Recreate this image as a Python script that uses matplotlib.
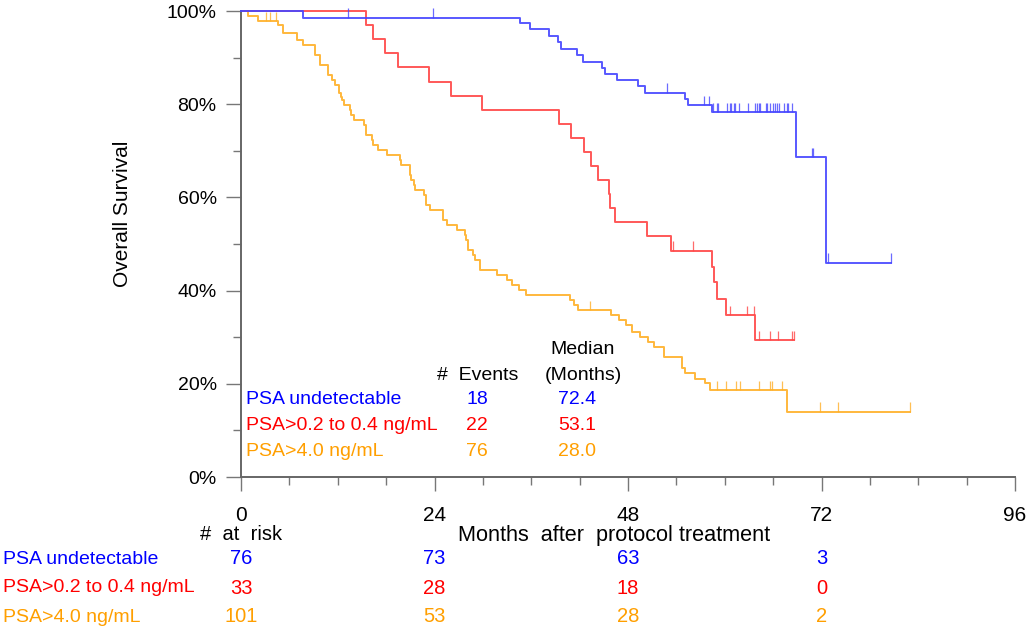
import numpy as np
import matplotlib
matplotlib.use("Agg")
import matplotlib.pyplot as plt
from matplotlib.ticker import MultipleLocator

# ---------------- data ----------------
groups = ["PSA undetectable", "PSA>0.2 to 0.4 ng/mL", "PSA>4.0 ng/mL"]
events = ["18", "22", "76"]
medians = ["72.4", "53.1", "28.0"]

blue_t = [0, 7.7, 34.6, 35.9, 38.2, 39.3, 39.7, 41.7, 42.4, 44.8, 45.1, 46.6, 49.3, 50.1, 55.1, 55.5, 58.4, 68.8, 72.6]
blue_s = [100, 98.6, 97.4, 96.1, 94.6, 93.3, 91.9, 90.6, 89.1, 87.8, 86.5, 85.2, 83.8, 82.5, 81.1, 79.8, 78.3, 68.6, 46.0]
blue_end = 80.6
blue_cens = [13.3, 23.8, 52.8, 57.4, 58.0, 58.6, 59.1, 59.2, 60.3, 60.6, 60.8, 61.1, 61.3, 61.8, 62.9, 63.7, 64.0,
             64.2, 64.4, 65.1, 65.3, 65.6, 66.0, 66.2, 66.5, 66.7, 67.4, 67.7, 67.9, 68.4, 70.8, 71.0, 72.8, 80.6]

red_t = [0, 15.5, 16.4, 17.9, 19.5, 23.3, 26.1, 29.9, 39.4, 40.9, 42.5, 43.4, 44.3, 45.7, 45.8, 46.4, 50.3, 53.3,
         58.4, 58.7, 59.1, 60.2, 63.8]
red_s = [100, 97.0, 93.9, 90.9, 87.9, 84.8, 81.8, 78.8, 75.8, 72.7, 69.7, 66.7, 63.7, 60.7, 57.7, 54.7, 51.7, 48.6,
         45.1, 41.8, 38.3, 34.8, 29.4]
red_end = 68.6
red_cens = [53.6, 56.0, 60.6, 62.8, 63.6, 64.2, 65.6, 66.6, 68.3, 68.6]

orange_t = [0, 0.9, 2.1, 4.6, 5.25, 6.9, 7.7, 9.2, 9.8, 10.8, 11.3, 11.7, 12.1, 12.4, 12.5, 12.8, 13.5, 13.7, 14.0,
            15.2, 15.5, 16.3, 16.4, 17.0, 18.1, 19.7, 19.9, 20.9, 21.0, 21.1, 21.4, 21.6, 22.7, 22.9, 23.0, 23.4,
            25.0, 25.1, 25.6, 26.8, 27.8, 27.9, 28.1, 28.2, 28.8, 29.0, 29.6, 31.7, 33.0, 33.6, 34.5, 35.4, 40.8,
            41.3, 41.8, 45.9, 46.9, 47.8, 48.5, 49.5, 50.5, 51.2, 52.5, 54.7, 55.1, 56.3, 57.6, 58.2, 67.7]
orange_s = [100, 99.0, 97.8, 96.9, 95.2, 93.8, 92.7, 90.6, 88.4, 86.3, 85.2, 84.1, 82.3, 81.6, 80.9, 79.8, 78.8, 77.7,
            76.6, 75.5, 73.4, 72.3, 71.2, 70.2, 69.1, 68.0, 66.9, 65.9, 64.8, 63.7, 62.7, 61.6, 60.5, 59.4, 58.4,
            57.3, 56.2, 55.2, 54.1, 53.0, 51.9, 50.9, 49.8, 48.7, 47.6, 46.6, 44.4, 43.3, 42.3, 41.2, 40.1, 39.1,
            38.0, 36.9, 35.8, 34.8, 33.7, 32.6, 31.2, 30.1, 29.0, 28.0, 25.8, 23.3, 22.3, 21.1, 20.1, 18.7, 14.0]
orange_end = 83.0
orange_cens = [3.1, 3.6, 4.4, 43.3, 59.0, 60.2, 61.4, 61.9, 64.3, 65.6, 65.9, 67.1, 71.8, 74.0, 83.0]

risk_times = [0, 24, 48, 72]
risk_blue = ["76", "73", "63", "3"]
risk_red = ["33", "28", "18", "0"]
risk_orange = ["101", "53", "28", "2"]

x_ticks = [0, 24, 48, 72, 96]
y_ticks = [0, 20, 40, 60, 80, 100]

# ---------------- style ----------------
W, H = 1032, 629
plt.rcParams['font.family'] = ['Liberation Sans', 'DejaVu Sans']
line_cols = ['#4646ff', '#ff4646', '#ffb028']
text_cols = ['#0000ff', '#ff0000', '#ff9f00']

fig = plt.figure(figsize=(W / 100, H / 100), dpi=100)
ax = fig.add_axes([241 / W, 1 - 477 / H, (1015 - 241) / W, (477 - 11) / H])

def P(x, y):
    return x / W, 1 - y / H

def step_val(ts, ss, t):
    idx = np.searchsorted(np.array(ts), t, side='right') - 1
    return ss[max(idx, 0)]

curves = [(blue_t, blue_s, blue_end, blue_cens),
          (red_t, red_s, red_end, red_cens),
          (orange_t, orange_s, orange_end, orange_cens)]

for (ts, ss, tend, cens), col, z in zip(curves, line_cols, [3, 2, 1]):
    ax.step(list(ts) + [tend], list(ss) + [ss[-1]], where='post', color=col, lw=1.4,
            alpha=0.9, clip_on=False, zorder=z)
    cv = [step_val(ts, ss, c) for c in cens]
    ax.vlines(cens, cv, np.array(cv) + 2.0, color=col, lw=0.9, alpha=0.8, clip_on=False, zorder=z)

ax.set_xlim(0, 96)
ax.set_ylim(0, 100)
ax.set_xticks(x_ticks)
ax.set_xticklabels([str(v) for v in x_ticks])
ax.xaxis.set_minor_locator(MultipleLocator(6))
ax.set_yticks(y_ticks)
ax.set_yticklabels([f"{v}%" for v in y_ticks])
ax.yaxis.set_minor_locator(MultipleLocator(10))

for s in ['top', 'right']:
    ax.spines[s].set_visible(False)
for s in ['left', 'bottom']:
    ax.spines[s].set_color('#666666')
    ax.spines[s].set_linewidth(1.4)

ax.tick_params(axis='x', which='major', direction='out', length=10, width=1.0, color='#777777',
               pad=11, labelsize=15)
ax.tick_params(axis='x', which='minor', direction='out', length=5.5, width=1.0, color='#777777')
ax.tick_params(axis='y', which='major', direction='out', length=10.5, width=1.0, color='#777777',
               pad=7, labelsize=14)
ax.tick_params(axis='y', which='minor', direction='out', length=5.5, width=1.0, color='#777777')

# axis labels
fig.text(*P(122, 214), "Overall Survival", rotation=90, ha='center', va='center', fontsize=15)
fig.text(*P(614.5, 536), "Months  after  protocol treatment", ha='center', va='center', fontsize=15.6)

# in-plot legend table
fig.text(*P(478, 375), "#  Events", ha='center', va='center', fontsize=14)
fig.text(*P(583, 350), "Median", ha='center', va='center', fontsize=14)
fig.text(*P(583, 375), "(Months)", ha='center', va='center', fontsize=14)
for i, (g, e, m, c) in enumerate(zip(groups, events, medians, text_cols)):
    yy = 400 + i * 25.8
    fig.text(*P(246.5, yy), g, ha='left', va='center', fontsize=14, color=c)
    fig.text(*P(477, yy), e, ha='center', va='center', fontsize=14, color=c)
    fig.text(*P(577, yy), m, ha='center', va='center', fontsize=14, color=c)

# at-risk table
fig.text(*P(241, 535), "#  at  risk", ha='center', va='center', fontsize=14.5)
risk_rows = [risk_blue, risk_red, risk_orange]
for i, (g, row, c) in enumerate(zip(groups, risk_rows, text_cols)):
    yy = 559 + i * 29
    fig.text(*P(3, yy), g, ha='left', va='center', fontsize=14, color=c)
    for t, v in zip(risk_times, row):
        xx = ax.transData.transform((t, 0))[0] / fig.dpi / fig.get_figwidth()
        fig.text(xx, 1 - yy / H, v, ha='center', va='center', fontsize=14.5, color=c)

fig.savefig("out.png", dpi=100)
